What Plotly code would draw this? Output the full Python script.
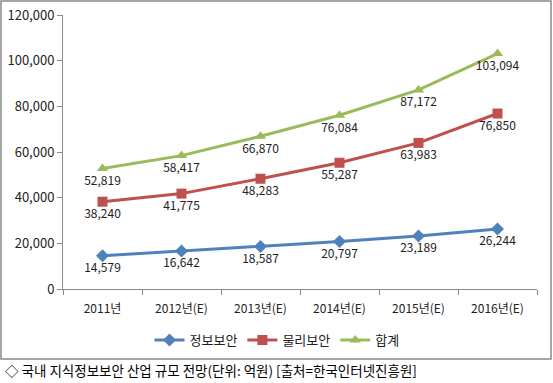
import plotly.graph_objects as go

categories = ["2011년", "2012년(E)", "2013년(E)", "2014년(E)", "2015년(E)", "2016년(E)"]
info_sec = [14579, 16642, 18587, 20797, 23189, 26244]
phys_sec = [38240, 41775, 48283, 55287, 63983, 76850]
total = [52819, 58417, 66870, 76084, 87172, 103094]
names = ["정보보안", "물리보안", "합계"]
colors = ["#4F81BD", "#C0504D", "#9BBB59"]
symbols = ["diamond", "square", "triangle-up"]
y_ticks = [0, 20000, 40000, 60000, 80000, 100000, 120000]
caption = "◇ 국내 지식정보보안 산업 규모 전망(단위: 억원) [출처=한국인터넷진흥원]"

FONT = "Noto Sans CJK KR"
fig = go.Figure()
for vals, name, col, sym in zip([info_sec, phys_sec, total], names, colors, symbols):
    fig.add_trace(go.Scatter(
        x=categories, y=vals, name=name, mode="lines+markers+text",
        line=dict(color=col, width=3),
        marker=dict(symbol=sym, size=10, color=col),
        text=[f"{v:,}" for v in vals], textposition="bottom center",
        textfont=dict(size=12, color="#222222", family=FONT),
    ))

W, H = 553, 383
l, r, t, b = 63, 16, 15, 0
pw, ph = W - l - r, H - t - b


def py(pix):
    """pixel row from top -> paper y"""
    return (H - b - pix) / ph


def px(pix):
    return (pix - l) / pw


fig.update_layout(
    width=W, height=H,
    margin=dict(l=l, r=r, t=t, b=b, autoexpand=False),
    paper_bgcolor="white", plot_bgcolor="white",
    font=dict(family=FONT, size=12, color="#222222"),
    showlegend=True,
    legend=dict(orientation="h", x=px(277), y=py(340), xanchor="center", yanchor="middle",
                font=dict(size=13, family=FONT), traceorder="normal", bgcolor="rgba(0,0,0,0)"),
    xaxis=dict(type="category", showline=True, linecolor="#888888", linewidth=1,
               ticks="outside", tickson="boundaries", ticklen=5, tickcolor="#888888",
               showgrid=False, tickfont=dict(size=12), range=[-0.5, 5.5],
               ticklabelstandoff=9),
    yaxis=dict(range=[0, 120000], tickvals=y_ticks, tickformat=",d",
               domain=[py(289), py(15)],
               showline=True, linecolor="#888888", linewidth=1,
               ticks="outside", ticklen=5, tickcolor="#888888",
               showgrid=False, zeroline=False, tickfont=dict(size=13)),
    shapes=[dict(type="rect", xref="paper", yref="paper",
                 x0=px(1), x1=px(551), y0=py(359), y1=py(1),
                 line=dict(color="#888888", width=1.5), fillcolor="rgba(0,0,0,0)")],
    annotations=[dict(text=caption, xref="paper", yref="paper",
                      x=px(3), y=py(370), xanchor="left", yanchor="middle",
                      showarrow=False, font=dict(size=13.5, color="#000000", family=FONT))],
)
fig.write_html("out.html", config={"displayModeBar": False},
               post_script="document.body.style.margin='0';document.body.style.overflow='hidden';")
